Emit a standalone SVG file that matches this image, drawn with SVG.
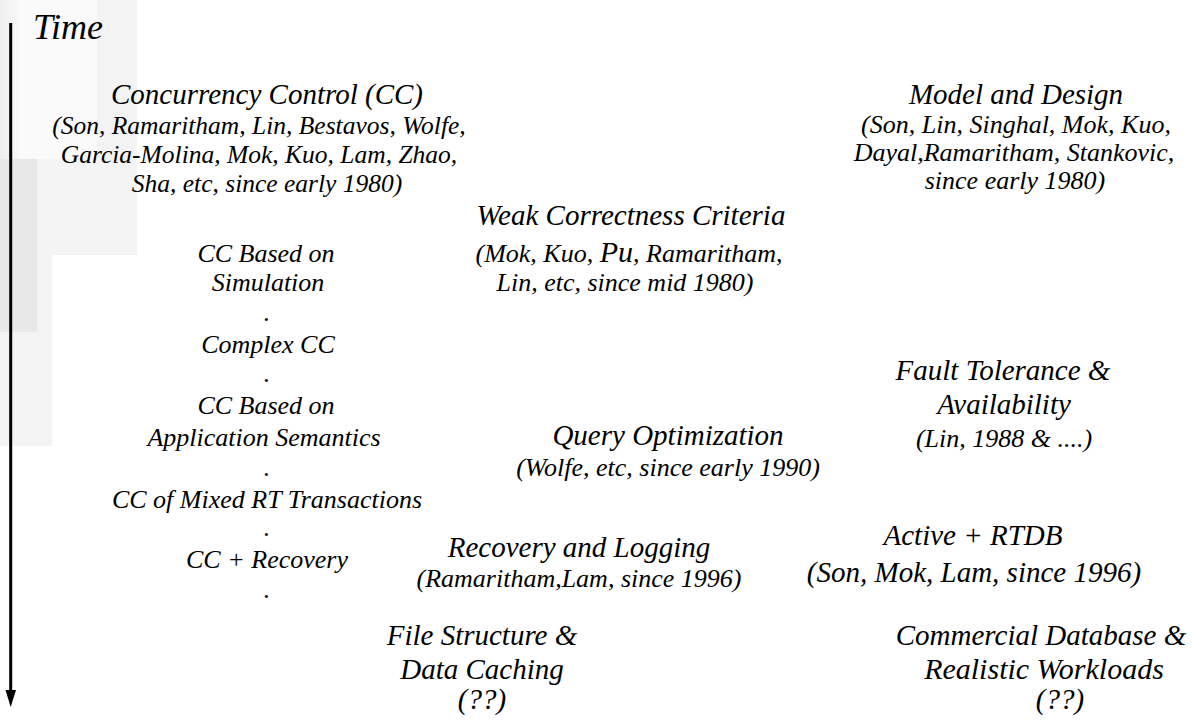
<svg xmlns="http://www.w3.org/2000/svg" width="1192" height="720" viewBox="0 0 1192 720">
<defs>
<linearGradient id="g1" x1="0" y1="0" x2="1" y2="0">
<stop offset="0" stop-color="#eeeeee"/>
<stop offset="1" stop-color="#f8f8f8"/>
</linearGradient>
<style>
text{font-family:"Liberation Serif","Times New Roman",serif;font-style:italic;fill:#000;text-anchor:middle}
.t{font-size:29px}
.s{font-size:26px}
.a{font-size:25.5px}
.big{font-size:36px;text-anchor:start}
</style>
</defs>
<rect x="0" y="0" width="1192" height="720" fill="#ffffff"/>
<g id="background">
<rect x="0" y="0" width="18" height="159" fill="url(#g1)"/>
<rect x="18" y="0" width="79" height="159" fill="#fafafa"/>
<rect x="97" y="0" width="40" height="255" fill="#f3f3f3"/>
<rect x="0" y="159" width="137" height="96" fill="#f4f4f4"/>
<rect x="0" y="255" width="52" height="191" fill="#f3f3f3"/>
<rect x="0" y="159" width="37" height="173" fill="#e8e8e8"/>
</g>
<g id="connectors">
<line x1="10.7" y1="23" x2="10.7" y2="692" stroke="#000" stroke-width="3"/>
<polygon points="5.5,690 16,690 10.7,707" fill="#000"/>
</g>
<g id="time"><text class="big" x="33" y="39">Time</text></g>
<g id="cc">
<text class="t" x="267" y="104">Concurrency Control (CC)</text>
<text class="a" x="259" y="134">(Son, Ramaritham, Lin, Bestavos, Wolfe,</text>
<text class="a" x="259" y="163">Garcia-Molina, Mok, Kuo, Lam, Zhao,</text>
<text class="a" x="267" y="192">Sha, etc, since early 1980)</text>
</g>
<g id="cc-list">
<text class="s" x="266" y="262">CC Based on</text>
<text class="s" x="268" y="291">Simulation</text>
<text class="s" x="267" y="321">.</text>
<text class="s" x="268" y="353">Complex CC</text>
<text class="s" x="267" y="382">.</text>
<text class="s" x="266" y="414">CC Based on</text>
<text class="s" x="264" y="446">Application Semantics</text>
<text class="s" x="267" y="476">.</text>
<text class="s" x="267" y="508">CC of Mixed RT Transactions</text>
<text class="s" x="267" y="536">.</text>
<text class="s" x="267" y="568">CC + Recovery</text>
<text class="s" x="267" y="598">.</text>
</g>
<g id="weak">
<text class="t" x="631" y="225">Weak Correctness Criteria</text>
<text class="s" x="629" y="262">(Mok, Kuo, <tspan style="font-size:30px">Pu</tspan>, Ramaritham,</text>
<text class="s" x="625" y="291">Lin, etc, since mid 1980)</text>
</g>
<g id="model">
<text class="t" x="1016" y="104">Model and Design</text>
<text class="s" x="1016" y="133">(Son, Lin, Singhal, Mok, Kuo,</text>
<text class="s" x="1014" y="161">Dayal,Ramaritham, Stankovic,</text>
<text class="s" x="1015" y="189">since early 1980)</text>
</g>
<g id="fault">
<text class="t" x="1003" y="380">Fault Tolerance &amp;</text>
<text class="t" x="1004" y="414">Availability</text>
<text class="s" x="1004" y="447">(Lin, 1988 &amp; ....)</text>
</g>
<g id="query">
<text class="t" x="668" y="445">Query Optimization</text>
<text class="s" x="668" y="476">(Wolfe, etc, since early 1990)</text>
</g>
<g id="active">
<text class="t" x="973" y="545">Active + RTDB</text>
<text class="t" x="974" y="582">(Son, Mok, Lam, since 1996)</text>
</g>
<g id="recovery">
<text class="t" x="579" y="557">Recovery and Logging</text>
<text class="s" x="579" y="587">(Ramaritham,Lam, since 1996)</text>
</g>
<g id="file">
<text class="t" x="482" y="645">File Structure &amp;</text>
<text class="t" x="482" y="679">Data Caching</text>
<text class="t" x="482" y="709">(??)</text>
</g>
<g id="commercial">
<text class="t" x="1041" y="645">Commercial Database &amp;</text>
<text class="s" x="1044" y="679" style="font-size:30px">Realistic Workloads</text>
<text class="t" x="1060" y="709">(??)</text>
</g>
</svg>
